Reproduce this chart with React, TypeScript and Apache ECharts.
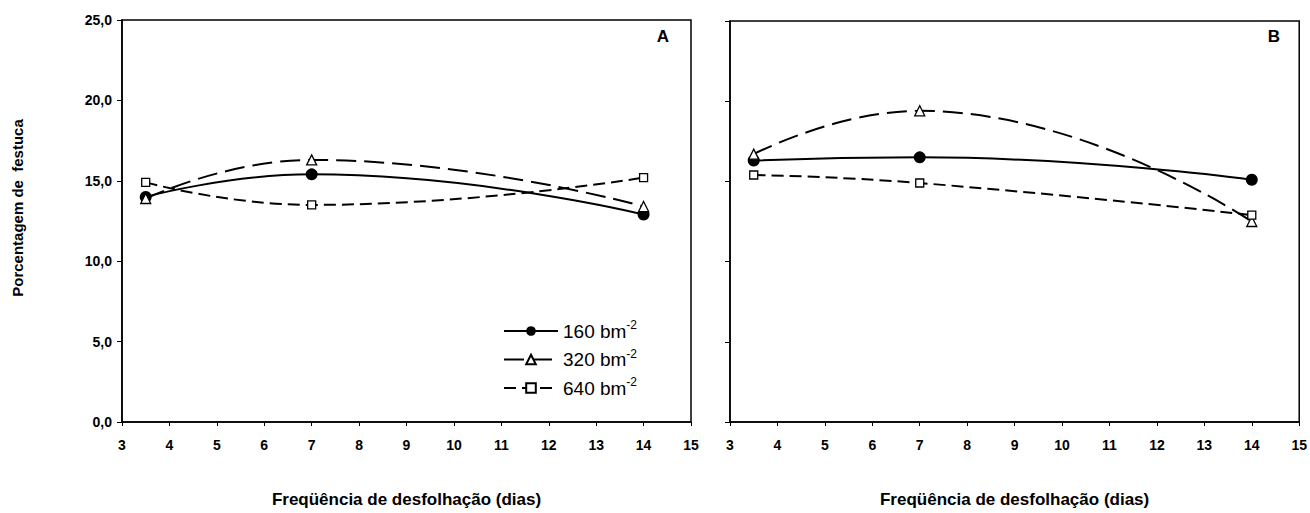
import React, { useEffect, useRef } from "react";
import * as echarts from "echarts";

// ---- data ----
const xValues = [3.5, 7, 14];
const seriesNames = ["160 bm", "320 bm", "640 bm"];
const panelA160 = [14.0, 15.4, 12.9];
const panelA320 = [13.9, 16.3, 13.4];
const panelA640 = [14.9, 13.5, 15.2];
const panelB160 = [16.3, 16.5, 15.1];
const panelB320 = [16.7, 19.4, 12.5];
const panelB640 = [15.4, 14.9, 12.9];
const panelLabels = ["A", "B"];
const xTitle = "Freqüência de desfolhação (dias)";
const yTitle = "Porcentagem de  festuca";

const FONT = "Arial, 'Liberation Sans', Helvetica, sans-serif";

const pairs = (vals: number[]) => xValues.map((x, i) => [x, vals[i]]);

const styleFor = (idx: number) => {
  if (idx === 0)
    return {
      symbol: "circle",
      symbolSize: 12,
      itemStyle: { color: "#000", borderColor: "#000", borderWidth: 0 },
      lineStyle: { color: "#000", width: 2, type: "solid" as any },
    };
  if (idx === 1)
    return {
      symbol: "triangle",
      symbolSize: 10,
      itemStyle: { color: "#fff", borderColor: "#000", borderWidth: 1.3 },
      lineStyle: { color: "#000", width: 2, type: [20, 8] as any },
    };
  return {
    symbol: "rect",
    symbolSize: 8,
    itemStyle: { color: "#fff", borderColor: "#000", borderWidth: 1.3 },
    lineStyle: { color: "#000", width: 2, type: [12, 6] as any },
  };
};

export default function App() {
  const ref = useRef<HTMLDivElement>(null);
  useEffect(() => {
    if (!ref.current) return;
    const chart = echarts.init(ref.current, undefined, { renderer: "svg" });

    const panels = [
      [panelA160, panelA320, panelA640],
      [panelB160, panelB320, panelB640],
    ];
    const series: any[] = [];
    panels.forEach((p, g) => {
      p.forEach((vals, i) => {
        series.push({
          type: "line",
          name: seriesNames[i],
          xAxisIndex: g,
          yAxisIndex: g,
          data: pairs(vals),
          smooth: 0.5,
          showSymbol: true,
          z: 3 + i,
          ...styleFor(i),
        });
      });
    });

    const xAxisBase = (g: number) => ({
      type: "value",
      gridIndex: g,
      min: 3,
      max: 15,
      interval: 1,
      axisLine: { show: true, lineStyle: { color: "#000", width: 1.5 } },
      axisTick: { show: true, inside: false, length: 4, lineStyle: { color: "#000", width: 1 } },
      axisLabel: {
        color: "#000",
        fontFamily: FONT,
        fontWeight: "bold",
        fontSize: 14,
        margin: 16,
      },
      splitLine: { show: false },
      name: xTitle,
      nameLocation: "middle",
      nameGap: 69,
      nameTextStyle: { color: "#000", fontFamily: FONT, fontWeight: "bold", fontSize: 17 },
    });

    const yAxisBase = (g: number) => ({
      type: "value",
      gridIndex: g,
      min: 0,
      max: 25,
      interval: 5,
      axisLine: { show: true, lineStyle: { color: "#000", width: 1.5 } },
      axisTick: { show: true, inside: false, length: 5, lineStyle: { color: "#000", width: 1 } },
      axisLabel: {
        show: g === 0,
        color: "#000",
        fontFamily: FONT,
        fontWeight: "bold",
        fontSize: 14,
        margin: 10,
        formatter: (v: number) => v.toFixed(1).replace(".", ","),
      },
      splitLine: { show: false },
    });

    chart.setOption({
      animation: false,
      backgroundColor: "#fff",
      grid: [
        { left: 122, top: 20, width: 569, height: 413, show: true, borderColor: "#000", borderWidth: 1.5, backgroundColor: "transparent" },
        { left: 730, top: 21, width: 572, height: 412, show: true, borderColor: "#000", borderWidth: 1.5, backgroundColor: "transparent" },
      ],
      xAxis: [xAxisBase(0), xAxisBase(1)],
      yAxis: [yAxisBase(0), yAxisBase(1)],
      legend: {
        show: true,
        orient: "vertical",
        left: 498,
        top: 314,
        itemWidth: 54,
        itemHeight: 12,
        itemGap: 7,
        data: seriesNames,
        formatter: (name: string) => `{n|${name}}{s|-2}`,
        textStyle: {
          color: "#000",
          fontFamily: FONT,
          fontSize: 19,
          rich: {
            n: { fontSize: 19, fontFamily: FONT, color: "#000" },
            s: { fontSize: 12, fontFamily: FONT, color: "#000", padding: [0, 0, 12, 0] },
          },
        },
      },
      graphic: [
        {
          type: "text",
          x: 17,
          y: 208,
          rotation: Math.PI / 2,
          style: {
            text: yTitle,
            fill: "#000",
            font: `bold 15px ${FONT}`,
            textAlign: "center",
            textVerticalAlign: "middle",
          },
        },
        {
          type: "text",
          x: 663,
          y: 36,
          style: {
            text: panelLabels[0],
            fill: "#000",
            font: `bold 17px ${FONT}`,
            textAlign: "center",
            textVerticalAlign: "middle",
          },
        },
        {
          type: "text",
          x: 1274,
          y: 36,
          style: {
            text: panelLabels[1],
            fill: "#000",
            font: `bold 17px ${FONT}`,
            textAlign: "center",
            textVerticalAlign: "middle",
          },
        },
      ],
      series,
    });
    return () => chart.dispose();
  }, []);

  return (
    <div
      ref={ref}
      style={{ position: "absolute", left: 0, top: 0, width: 1310, height: 513, background: "#fff" }}
    />
  );
}
